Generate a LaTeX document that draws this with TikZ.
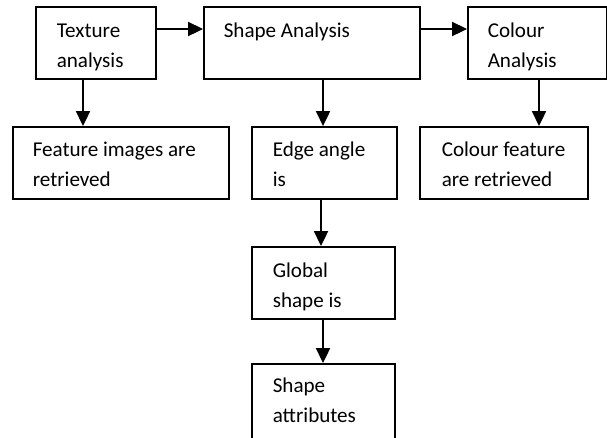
\documentclass[tikz,border=0pt]{standalone}
\usepackage{fontspec}
\setmainfont{Carlito}
\usetikzlibrary{arrows.meta}
\tikzset{
  box/.style={draw, anchor=north west, minimum height=1.8cm, inner sep=0pt},
  txt/.style={anchor=base west, align=left, inner sep=0pt, font=\fontsize{15}{21.3}\selectfont},
}
\begin{document}
\begin{tikzpicture}[x=0.025cm, y=-0.025cm, line width=1.1pt, >={Triangle[length=0.37cm,width=0.35cm]}]
\useasboundingbox (0,0) rectangle (607,437);

% top row
\node[box, minimum width=3cm] (tex) at (35,6) {};
\node[box, minimum width=5.4cm] (shp) at (203,6) {};
\node[box, minimum width=3.475cm] (col) at (467,6) {};

% second row
\node[box, minimum width=5.4cm] (feat) at (12,126) {};
\node[box, minimum width=3.625cm] (edge) at (251,126) {};
\node[box, minimum width=4.2cm] (cfeat) at (419,126) {};

% shape column
\node[box, minimum width=3.575cm] (glob) at (251,246) {};
\node[box, minimum width=3.575cm, minimum height=2cm] (attr) at (251,363) {};

% texts (base = last line)
\node[txt] (textex) at ([shift={(21,61)}]tex.north west) {Texture\\analysis};
\node[txt] (txtshp) at ([shift={(20,31)}]shp.north west) {Shape Analysis};
\node[txt] (txtcol) at ([shift={(20,61)}]col.north west) {Colour\\Analysis};
\node[txt] (txtfeat) at ([shift={(20,60)}]feat.north west) {Feature images are\\retrieved};
\node[txt] (txtedge) at ([shift={(21,60)}]edge.north west) {Edge angle\\is};
\node[txt] (txtcfeat) at ([shift={(22,60)}]cfeat.north west) {Colour feature\\are retrieved};
\node[txt] (txtglob) at ([shift={(21,61)}]glob.north west) {Global\\shape is};
\node[txt] (txtattr) at ([shift={(21,59)}]attr.north west) {Shape\\attributes};

% arrows
\draw[->] ([yshift=-0.575cm]tex.north east) -- ([yshift=-0.575cm]shp.north west);
\draw[->] ([yshift=-0.575cm]shp.north east) -- ([yshift=-0.575cm]col.north west);
\draw[->] ([xshift=1.2cm]tex.south west) -- ([xshift=1.2cm]tex.south west |- feat.north);
\draw[->] ([xshift=3cm]shp.south west) -- ([xshift=3cm]shp.south west |- edge.north);
\draw[->] ([xshift=1.8cm]col.south west) -- ([xshift=1.8cm]col.south west |- cfeat.north);
\draw[->] ([xshift=1.75cm]edge.south west) -- ([xshift=1.75cm]edge.south west |- glob.north);
\draw[->] ([xshift=1.8cm]glob.south west) -- ([xshift=1.8cm]glob.south west |- attr.north);

\end{tikzpicture}
\end{document}
